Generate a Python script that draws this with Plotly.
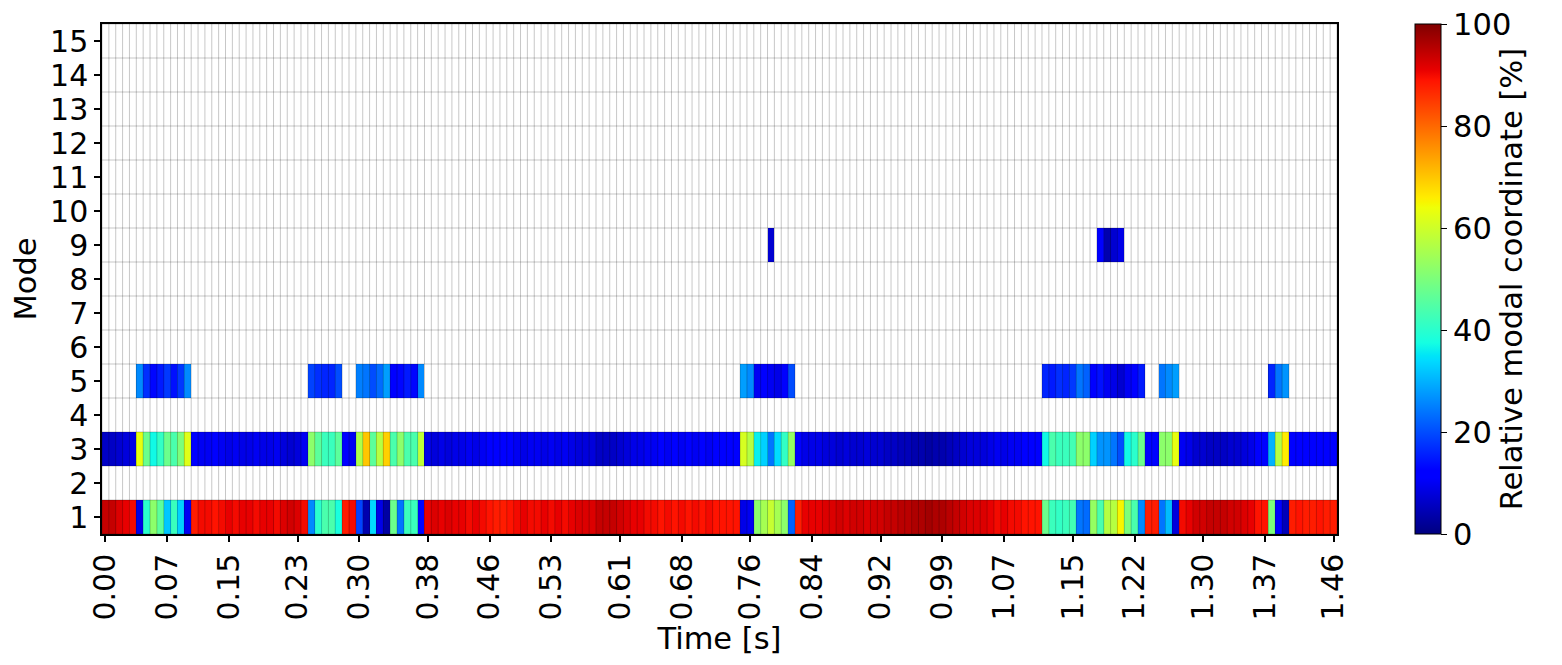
import numpy as np
import plotly.graph_objects as go

# time between two columns [s]
dt = 1 / 123
n_cols = 180
n_modes = 15

# relative modal coordinate [%] per time column
mode1 = (
    [94, 94, 92, 91, 90, 9, 40, 52, 46, 32, 42, 33, 10, 88]                 # 0-13
    + [90, 90, 89, 90, 91, 90, 91, 91, 90, 91, 91, 90, 92, 93, 92, 90]      # 14-29
    + [26, 40, 44, 44, 38, 88, 90, 19, 4, 34, 9, 3, 48, 24, 42, 42, 13]     # 30-46
    + [91, 92, 91, 92, 91, 91, 90, 91, 90, 89, 88, 88, 89]                  # 47-59
    + [90, 91, 90, 90, 91, 90, 91, 90, 91, 92, 92, 92, 94, 94, 94, 93]      # 60-75
    + [92, 91, 91, 90, 90, 89, 90, 89, 90, 89, 90, 89, 90, 89, 89, 89, 89]  # 76-92
    + [9, 10, 52, 55, 59, 55, 52, 22, 88]                                   # 93-101
    + [91, 91, 91, 92, 92, 93, 92, 93, 93, 92, 93, 93, 94, 94, 95, 95]      # 102-117
    + [96, 96, 97, 96, 96, 95, 94, 93, 92, 92, 92]                          # 118-128
    + [91, 90, 91, 90, 90, 89, 89, 89]                                      # 129-136
    + [48, 42, 41, 42, 43, 24, 23, 53, 44, 57, 57, 65, 50, 44, 26]          # 137-151
    + [88, 88, 24, 31, 8]                                                   # 152-156
    + [90, 91, 93, 93, 94, 94, 94, 93, 93, 92, 91, 89, 89]                  # 157-169
    + [50, 12, 5, 88, 89, 88, 88, 89, 88, 88]                               # 170-179
)

mode3 = (
    [6, 6, 7, 8, 9, 63, 48, 37, 41, 48, 44, 50, 62, 12]                     # 0-13
    + [10, 10, 11, 10, 9, 10, 9, 9, 10, 9, 9, 10, 8, 7, 8, 10]              # 14-29
    + [52, 46, 42, 42, 46, 12, 10, 56, 70, 46, 57, 69, 44, 52, 44, 44, 58]  # 30-46
    + [9, 8, 9, 8, 9, 9, 10, 9, 10, 11, 12, 12, 11]                         # 47-59
    + [10, 9, 10, 10, 9, 10, 9, 10, 9, 8, 8, 8, 6, 6, 6, 7]                 # 60-75
    + [8, 9, 9, 10, 10, 11, 10, 11, 10, 11, 10, 11, 10, 11, 11, 11, 11]     # 76-92
    + [61, 57, 36, 33, 24, 34, 41, 53, 12]                                  # 93-101
    + [9, 9, 9, 8, 8, 7, 8, 7, 7, 8, 7, 7, 6, 6, 5, 5]                      # 102-117
    + [4, 4, 3, 4, 4, 5, 6, 7, 8, 8, 8]                                     # 118-128
    + [9, 10, 9, 10, 10, 11, 11, 11]                                        # 129-136
    + [37, 44, 42, 42, 43, 52, 52, 33, 27, 27, 24, 20, 37, 40, 48]          # 137-151
    + [12, 12, 52, 52, 63]                                                  # 152-156
    + [10, 9, 7, 7, 6, 6, 6, 7, 7, 8, 9, 11, 11]                            # 157-169
    + [30, 57, 66, 12, 11, 12, 12, 11, 12, 12]                              # 170-179
)

# sparse modes: first column -> values
mode5_blocks = {
    5: [26, 17, 13, 15, 18, 14, 18, 26],
    30: [19, 17, 16, 16, 20],
    37: [25, 24, 20, 23, 28, 11, 13, 15, 13, 26],
    93: [28, 26, 10, 11, 10, 9, 12, 20],
    137: [16, 15, 17, 16, 18, 24, 22, 11, 14, 10, 9, 7, 10, 12, 15],
    154: [24, 26, 28],
    170: [16, 24, 27],
}
mode9_blocks = {
    97: [7],
    145: [12, 4, 7, 9],
}

tick_cols = [0, 9, 18, 28, 37, 47, 56, 65, 75, 84,
             94, 103, 113, 122, 131, 141, 150, 160, 169, 179]
tick_labels = ["0.00", "0.07", "0.15", "0.23", "0.30", "0.38", "0.46",
               "0.53", "0.61", "0.68", "0.76", "0.84", "0.92", "0.99",
               "1.07", "1.15", "1.22", "1.30", "1.37", "1.46"]

assert len(mode1) == n_cols and len(mode3) == n_cols

time = np.arange(n_cols) * dt
modes = np.arange(1, n_modes + 1)

z = np.full((n_modes, n_cols), np.nan)
z[0] = mode1
z[2] = mode3
for start, vals in mode5_blocks.items():
    z[4, start:start + len(vals)] = vals
for start, vals in mode9_blocks.items():
    z[8, start:start + len(vals)] = vals

# matplotlib "jet" as a plotly colorscale
stops = [0, 0.11, 0.125, 0.34, 0.35, 0.375, 0.64, 0.65, 0.66, 0.89, 0.91, 1]
r = np.interp(stops, [0, .35, .66, .89, 1], [0, 0, 1, 1, .5])
g = np.interp(stops, [0, .125, .375, .64, .91, 1], [0, 0, 1, 1, 0, 0])
b = np.interp(stops, [0, .11, .34, .65, 1], [.5, 1, 1, 0, 0])
jet = [[s, f"rgb({int(round(rr*255))},{int(round(gg*255))},{int(round(bb*255))})"]
       for s, rr, gg, bb in zip(stops, r, g, b)]

font = "DejaVu Sans"
tick_size = 30
label_size = 30.5

fig = go.Figure()
fig.add_trace(go.Heatmap(
    x=time, y=modes, z=z,
    colorscale=jet, zmin=0, zmax=100,
    hoverongaps=False,
    colorbar=dict(
        x=1.0632, xanchor="left", xpad=0, ypad=0,
        y=0.5, yanchor="middle", len=1, lenmode="fraction",
        thickness=26, thicknessmode="pixels",
        outlinewidth=1, outlinecolor="black",
        ticks="outside", ticklen=6, tickwidth=1.2, tickcolor="black",
        tickvals=[0, 20, 40, 60, 80, 100],
        ticklabeloverflow="allow",
        tickfont=dict(family=font, size=label_size, color="black"),
        title=dict(text="Relative modal coordinate [%]", side="right",
                   font=dict(family=font, size=label_size, color="black")),
    ),
))

# cell grid drawn over the heatmap
gx, gy = [], []
x_edges = (np.arange(n_cols + 1) - 0.5) * dt
for xe in x_edges:
    gx += [xe, xe, None]
    gy += [0.5, n_modes + 0.5, None]
for ye in np.arange(n_modes + 1) + 0.5:
    gx += [x_edges[0], x_edges[-1], None]
    gy += [ye, ye, None]
fig.add_trace(go.Scatter(
    x=gx, y=gy, mode="lines", hoverinfo="skip", showlegend=False,
    line=dict(color="rgba(0,0,0,0.28)", width=0.8),
))

axis_common = dict(
    showline=True, mirror=True, linecolor="black", linewidth=1.5,
    ticks="outside", ticklen=6, tickwidth=1.5, tickcolor="black",
    showgrid=False, zeroline=False,
    tickfont=dict(family=font, size=tick_size, color="black"),
)

# page body adds an 8px offset, so the figure is shrunk by that much
fig.update_layout(
    width=1554, height=657,
    margin=dict(l=94, r=225, t=16, b=131),
    paper_bgcolor="white", plot_bgcolor="white",
    showlegend=False,
    xaxis=dict(
        range=[x_edges[0], x_edges[-1]],
        tickvals=time[tick_cols], ticktext=tick_labels, tickangle=-90,
        title=dict(text="Time [s]", standoff=2,
                   font=dict(family=font, size=label_size, color="black")),
        **axis_common,
    ),
    yaxis=dict(
        range=[0.5, n_modes + 0.5],
        tickvals=list(modes),
        title=dict(text="Mode", standoff=6,
                   font=dict(family=font, size=label_size, color="black")),
        **axis_common,
    ),
)

fig.write_html("out.html")
